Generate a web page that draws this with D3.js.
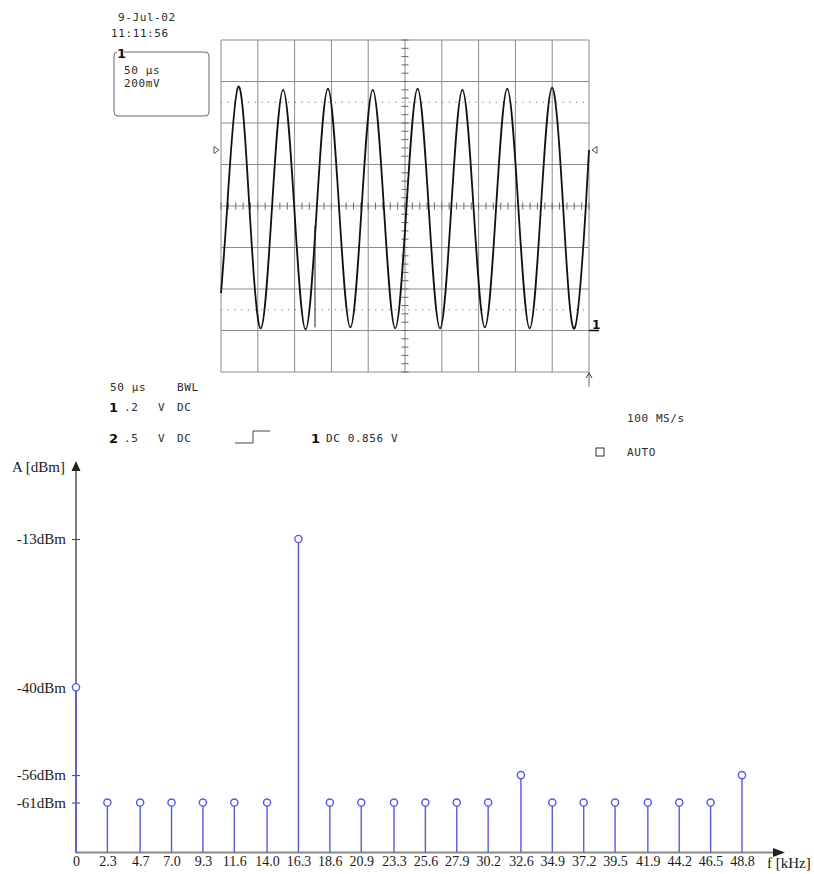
<!DOCTYPE html>
<html>
<head>
<meta charset="utf-8">
<script src="https://cdn.jsdelivr.net/npm/d3@7"></script>
<style>
  body { margin: 0; background: #fff; }
  svg { display: block; }
</style>
</head>
<body>
<div id="wrapper"></div>
<script>
/* global d3 */

// scope trace: time in µs (10 div x 50 µs), level in mV
const traceTime = [0, 8.3,
  23.5, 38.7, 54.0, 69.2,
  84.4, 99.6, 114.9, 130.1,
  145.3, 160.5, 175.8, 191.0,
  206.2, 221.4, 236.7, 251.9,
  267.1, 282.3, 297.6, 312.8,
  328.0, 343.2, 358.5, 373.7,
  388.9, 404.1, 419.4, 434.6,
  449.8, 465.0, 480.3, 495.5,
  500]
const traceMv = [-420, -12,
  575, -12, -590, -12,
  560, -12, -595, -12,
  565, -12, -585, -12,
  560, -12, -590, -12,
  565, -12, -590, -12,
  560, -12, -585, -12,
  565, -12, -590, -12,
  570, -12, -590, -12,
  270]
// short spike on the second falling edge
const glitchTime = [127.7, 127.7]
const glitchMv = [-95, -585]

// spectrum
const freqKHz = [0, 2.3, 4.7, 7.0, 9.3, 11.6, 14.0, 16.3, 18.6, 20.9, 23.3,
  25.6, 27.9, 30.2, 32.6, 34.9, 37.2, 39.5, 41.9, 44.2, 46.5, 48.8]
const freqLabels = ["0", "2.3", "4.7", "7.0", "9.3", "11.6", "14.0", "16.3", "18.6", "20.9", "23.3",
  "25.6", "27.9", "30.2", "32.6", "34.9", "37.2", "39.5", "41.9", "44.2", "46.5", "48.8"]
const levelDbm = [-40, -61, -61, -61, -61, -61, -61, -13, -61, -61, -61,
  -61, -61, -61, -56, -61, -61, -61, -61, -61, -61, -56]
const dbmTicks = [-13, -40, -56, -61]

const mono = "'DejaVu Sans Mono', monospace"
const serif = "'Liberation Serif', 'Times New Roman', serif"

function draw() {
  const svg = d3.select("#wrapper")
    .append("svg")
      .attr("width", 814)
      .attr("height", 874)

  // ---------- oscilloscope screen ----------
  const xT = d3.scaleLinear().domain([0, 500]).range([221, 589])
  const yV = d3.scaleLinear().domain([-800, 800]).range([372, 40])

  const scope = svg.append("g")

  // grid
  scope.selectAll(".vgrid")
    .data(d3.range(0, 501, 50))
    .join("line")
      .attr("x1", d => xT(d)).attr("x2", d => xT(d))
      .attr("y1", yV(800)).attr("y2", yV(-800))
      .attr("stroke", "#8c8c8c")
      .attr("stroke-width", 1)
  scope.selectAll(".hgrid")
    .data(d3.range(-800, 801, 200))
    .join("line")
      .attr("x1", xT(0)).attr("x2", xT(500))
      .attr("y1", d => yV(d)).attr("y2", d => yV(d))
      .attr("stroke", "#8c8c8c")
      .attr("stroke-width", 1)

  // minor ticks on the centre cross
  scope.selectAll(".tx")
    .data(d3.range(0, 501, 10))
    .join("line")
      .attr("x1", d => xT(d)).attr("x2", d => xT(d))
      .attr("y1", yV(0) - 3.5).attr("y2", yV(0) + 3.5)
      .attr("stroke", "#666")
  scope.selectAll(".ty")
    .data(d3.range(-800, 801, 40))
    .join("line")
      .attr("x1", xT(250) - 3.5).attr("x2", xT(250) + 3.5)
      .attr("y1", d => yV(d)).attr("y2", d => yV(d))
      .attr("stroke", "#666")

  // dotted cursor levels
  scope.selectAll(".cursor")
    .data([500, -500])
    .join("line")
      .attr("x1", xT(0)).attr("x2", xT(500))
      .attr("y1", d => yV(d)).attr("y2", d => yV(d))
      .attr("stroke", "#777")
      .attr("stroke-dasharray", "1.2,5.5")

  // trace
  const traceLine = d3.line()
    .x((d, i) => xT(traceTime[i]))
    .y(d => yV(d))
    .curve(d3.curveNatural)
  scope.append("path")
    .attr("d", traceLine(traceMv))
    .attr("fill", "none")
    .attr("stroke", "#111")
    .attr("stroke-width", 1.8)
  scope.append("path")
    .attr("d", d3.line().x((d, i) => xT(glitchTime[i])).y(d => yV(d))(glitchMv))
    .attr("fill", "none")
    .attr("stroke", "#222")
    .attr("stroke-width", 1)

  // trigger level markers
  const trigY = yV(270)
  scope.append("path")
    .attr("d", `M${xT(0) - 7},${trigY - 3.5} L${xT(0) - 2},${trigY} L${xT(0) - 7},${trigY + 3.5} Z`)
    .attr("fill", "none").attr("stroke", "#555")
  scope.append("path")
    .attr("d", `M${xT(500) + 8},${trigY - 3.5} L${xT(500) + 3},${trigY} L${xT(500) + 8},${trigY + 3.5} Z`)
    .attr("fill", "none").attr("stroke", "#555")

  // channel 1 marker
  scope.append("line")
    .attr("x1", xT(500)).attr("x2", xT(500) + 10)
    .attr("y1", yV(-600)).attr("y2", yV(-600))
    .attr("stroke", "#111").attr("stroke-width", 1.5)
  scope.append("text")
    .attr("x", xT(500) + 3).attr("y", yV(-600) - 2)
    .style("font-family", "'DejaVu Sans', sans-serif")
    .style("font-size", "12px")
    .style("font-weight", "bold")
    .attr("fill", "#111")
    .text("1")

  // trigger position arrow
  scope.append("line")
    .attr("x1", xT(500)).attr("x2", xT(500))
    .attr("y1", yV(-800)).attr("y2", yV(-800) + 15)
    .attr("stroke", "#666")
  scope.append("path")
    .attr("d", `M${xT(500) - 3},${yV(-800) + 6} L${xT(500)},${yV(-800) + 1} L${xT(500) + 3},${yV(-800) + 6}`)
    .attr("fill", "none").attr("stroke", "#333")

  // scope texts
  const monoText = (x, y, s) => scope.append("text")
    .attr("x", x).attr("y", y)
    .style("font-family", mono)
    .style("font-size", "11px")
    .style("letter-spacing", "0.6px")
    .attr("fill", "#2a2a2a")
    .text(s)
  const boldText = (x, y, s) => scope.append("text")
    .attr("x", x).attr("y", y)
    .style("font-family", "'DejaVu Sans', sans-serif")
    .style("font-size", "13px")
    .style("font-weight", "bold")
    .attr("fill", "#111")
    .text(s)

  monoText(118, 21, "9-Jul-02")
  monoText(111, 37, "11:11:56")

  scope.append("path")
    .attr("d", "M124,52 H205 Q209,52 209,56 V112 Q209,116 205,116 H118 Q114,116 114,112 V56 Q114,52 117,52")
    .attr("fill", "none")
    .attr("stroke", "#666")
  boldText(117, 58, "1")
  monoText(124, 74, "50 µs")
  monoText(124, 87, "200mV")

  monoText(110, 391, "50 µs")
  monoText(177, 391, "BWL")
  boldText(109, 412, "1")
  monoText(124, 411, ".2")
  monoText(158, 411, "V")
  monoText(177, 411, "DC")
  boldText(109, 443, "2")
  monoText(124, 442, ".5")
  monoText(158, 442, "V")
  monoText(177, 442, "DC")
  scope.append("path")
    .attr("d", "M235,443 H253 V431 H270")
    .attr("fill", "none").attr("stroke", "#444")
  boldText(311, 443, "1")
  monoText(326, 442, "DC 0.856 V")
  monoText(627, 422, "100 MS/s")
  scope.append("rect")
    .attr("x", 596).attr("y", 448).attr("width", 8).attr("height", 8)
    .attr("fill", "none").attr("stroke", "#333")
  monoText(627, 456, "AUTO")

  // ---------- spectrum ----------
  const xF = d3.scaleLinear().domain([0, 48.8]).range([76, 742])
  const yA = d3.scaleLinear().domain([-70, 0]).range([852, 467.6])

  const spec = svg.append("g")

  const yAxis = spec.append("g")
    .attr("transform", "translate(76,0)")
    .call(d3.axisLeft(yA).tickValues(dbmTicks).tickFormat(d => d + "dBm").tickSize(4).tickPadding(6))
  yAxis.select(".domain").remove()
  yAxis.selectAll(".tick line").attr("x1", 4).attr("stroke", "#444")
  yAxis.selectAll(".tick text")
    .style("font-family", serif)
    .style("font-size", "15px")
    .attr("fill", "#1a1a1a")

  const xAxis = spec.append("g")
    .attr("transform", "translate(0,852)")
    .call(d3.axisBottom(xF).tickValues(freqKHz).tickFormat((d, i) => freqLabels[i]).tickSize(0).tickPadding(4))
  xAxis.select(".domain").remove()
  xAxis.selectAll(".tick text")
    .style("font-family", serif)
    .style("font-size", "14px")
    .attr("fill", "#1a1a1a")

  // axis lines with arrows
  spec.append("line")
    .attr("x1", 76).attr("x2", 776)
    .attr("y1", 852.5).attr("y2", 852.5)
    .attr("stroke", "#8a8a8a").attr("stroke-width", 2)
  spec.append("path")
    .attr("d", "M785,852.5 L773,848 L773,857 Z")
    .attr("fill", "#222")
  spec.append("line")
    .attr("x1", 76).attr("x2", 76)
    .attr("y1", 853).attr("y2", 470)
    .attr("stroke", "#555").attr("stroke-width", 1.5)
  spec.append("path")
    .attr("d", "M76,461 L71.5,471 L80.5,471 Z")
    .attr("fill", "#222")

  spec.append("text")
    .attr("x", 12).attr("y", 472)
    .style("font-family", serif)
    .style("font-size", "15px")
    .attr("fill", "#1a1a1a")
    .text("A [dBm]")
  spec.append("text")
    .attr("x", 767).attr("y", 868)
    .style("font-family", serif)
    .style("font-size", "15px")
    .attr("fill", "#1a1a1a")
    .text("f [kHz]")

  // stems
  const stemColor = "#5858e6"
  spec.selectAll(".stem")
    .data(levelDbm)
    .join("line")
      .attr("x1", (d, i) => xF(freqKHz[i])).attr("x2", (d, i) => xF(freqKHz[i]))
      .attr("y1", yA(-70)).attr("y2", d => yA(d) + 3.5)
      .attr("stroke", stemColor)
      .attr("stroke-width", 1.4)
  spec.selectAll(".mark")
    .data(levelDbm)
    .join("circle")
      .attr("cx", (d, i) => xF(freqKHz[i]))
      .attr("cy", d => yA(d))
      .attr("r", 3.6)
      .attr("fill", "#fff")
      .attr("stroke", stemColor)
      .attr("stroke-width", 1.4)
}

draw()
</script>
</body>
</html>
